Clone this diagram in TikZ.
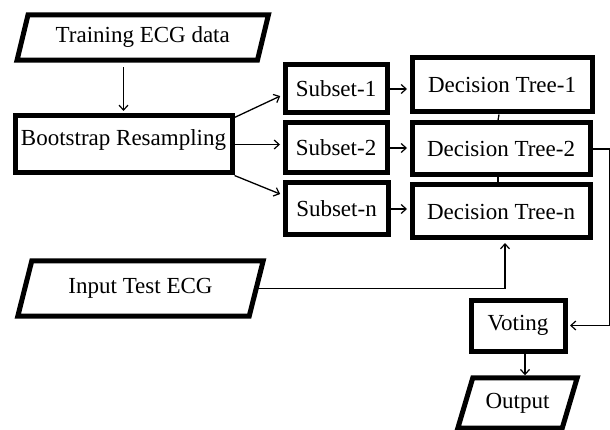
\documentclass[tikz,border=0pt]{standalone}
\usepackage{fontspec}
\setmainfont{Liberation Serif}
\usetikzlibrary{arrows.meta}
\newcommand\parallelo[2]{\draw[pline] ([xshift=#2]#1.north west) -- ([xshift=#2]#1.north east) -- ([xshift=-#2]#1.south east) -- ([xshift=-#2]#1.south west) -- cycle;}
\begin{document}
\begin{tikzpicture}[x=1pt,y=-1pt,
  txt/.style={font=\fontsize{23}{27}\selectfont, inner sep=0pt},
  rbox/.style={txt, draw, line width=5pt, rectangle},
  pbox/.style={txt, rectangle},
  pline/.style={line width=5pt, line join=miter},
  arr/.style={line width=1.3pt, -{Straight Barb[length=5pt,width=9pt,line width=1.2pt]}, shorten >=2.5pt},
  ln/.style={line width=1.3pt}]
\useasboundingbox (0,0) rectangle (610,430);
% parallelograms (data)
\node[pbox, minimum width=240pt, minimum height=45pt] (train) at (142.75,37.5) {Training ECG data};
\parallelo{train}{5.5pt}
\node[pbox, minimum width=231pt, minimum height=55pt] (inp) at (140.5,288.5) {Input Test ECG};
\parallelo{inp}{7pt}
\node[pbox, minimum width=104pt, minimum height=50pt] (out) at (517.5,403) {Output};
\parallelo{out}{7.5pt}
% process boxes
\node[rbox, minimum width=217pt, minimum height=57pt] (boot) at (123.5,144.5) {\raisebox{4pt}[\height][\depth]{Bootstrap Resampling}};
\node[rbox, minimum width=102pt, minimum height=48pt] (s1) at (336,89) {Subset-1};
\node[rbox, minimum width=102pt, minimum height=50pt] (s2) at (336,148) {Subset-2};
\node[rbox, minimum width=103pt, minimum height=52pt] (sn) at (336.5,209) {Subset-n};
\node[rbox, minimum width=180pt, minimum height=54pt] (dt1) at (502,85) {Decision Tree-1};
\node[rbox, minimum width=178pt, minimum height=52pt] (dt2) at (501,149) {Decision Tree-2};
\node[rbox, minimum width=178pt, minimum height=53pt] (dtn) at (501,211.5) {Decision Tree-n};
\node[rbox, minimum width=94pt, minimum height=51pt] (vote) at (518,325.5) {Voting};
% connectors
\draw[arr, shorten <=7pt] (train.south -| boot.north) -- (boot.north);
\draw[arr] ([yshift=-4pt]boot.north east) -- ([yshift=-6pt]s1.west);
\draw[arr] (boot.east) -- (boot.east -| s2.west);
\draw[arr] (boot.south east) -- ([yshift=14pt]sn.west);
\draw[arr] (s1.east) -- (s1.east -| dt1.west);
\draw[arr] (s2.east) -- (s2.east -| dt2.west);
\draw[arr] (sn.east) -- (sn.east -| dtn.west);
\draw[ln] ([xshift=-3pt]dt1.south) -- ([xshift=-3pt]dt2.north);
\draw[ln] ([xshift=-3pt]dt2.south) -- ([xshift=-3pt]dtn.north);
\draw[arr] (dt2.east) -- ++(17,0) |- (vote.east);
\draw[arr] (inp.east) -| ([xshift=4pt]dtn.south);
\draw[arr] ([xshift=7pt]vote.south) -- ([xshift=7pt]vote.south |- out.north);
\end{tikzpicture}
\end{document}
